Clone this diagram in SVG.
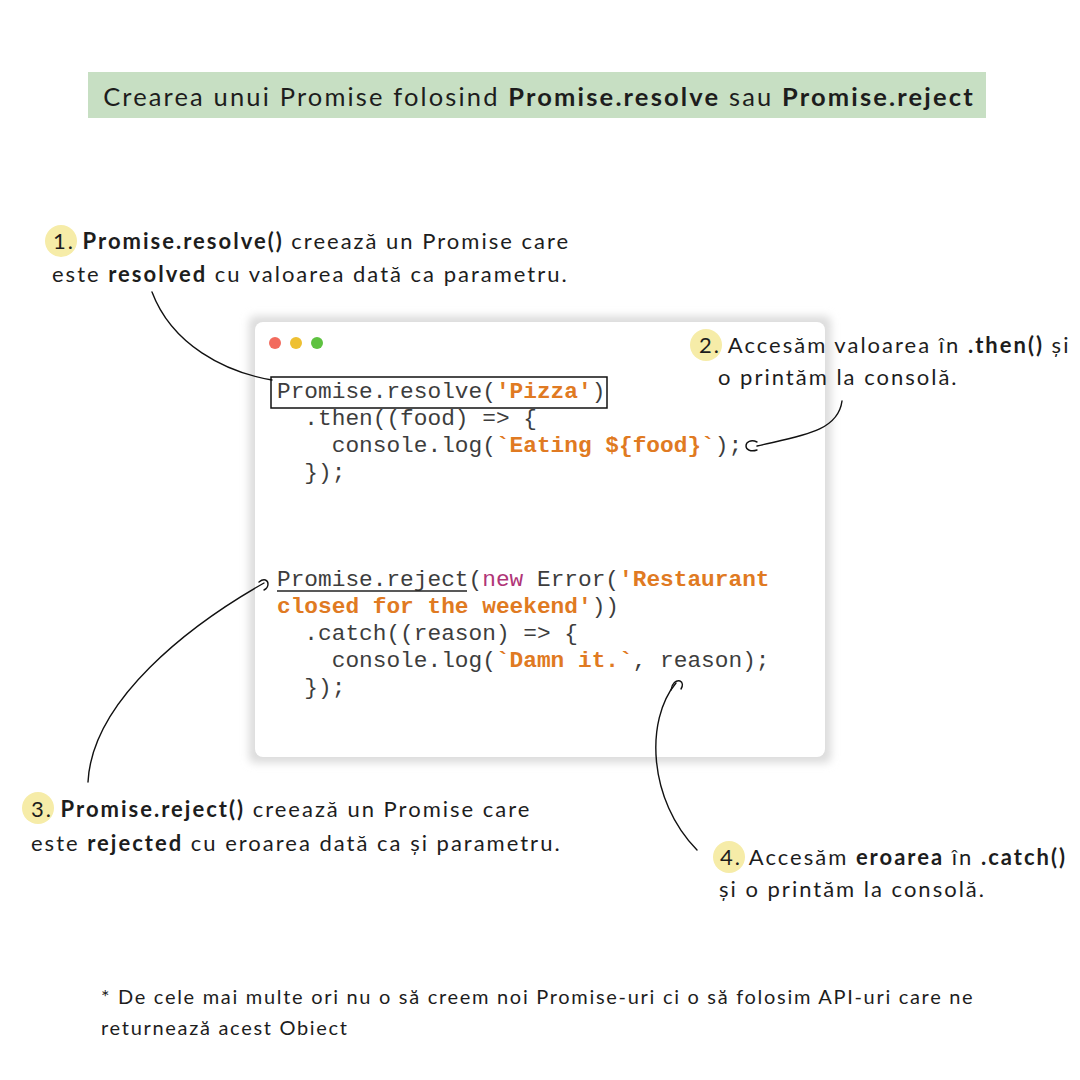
<svg xmlns="http://www.w3.org/2000/svg" width="1080" height="1080" viewBox="0 0 1080 1080">
<defs>
<style>
.hand{font-family:Lato,"Noto Sans","DejaVu Sans",sans-serif;fill:#1d1d1d;letter-spacing:2px}
.b{font-weight:bold}
.code{font-family:"Liberation Mono","Courier New",monospace;font-size:22.8px;fill:#3d3d3d}
.str{fill:#e07a22;font-weight:bold}
.kw{fill:#b03577}
.badge{fill:#f6eca8}
.conn{fill:none;stroke:#111;stroke-width:1.4;stroke-linecap:round}
</style>
<filter id="sh" x="-5%" y="-5%" width="110%" height="110%">
<feGaussianBlur stdDeviation="4"/>
</filter>
</defs>
<rect width="1080" height="1080" fill="#ffffff"/>

<g id="title">
<rect x="88" y="72" width="898" height="46" fill="#c7dfc3"/>
<text class="hand" x="539" y="106" font-size="25.5" text-anchor="middle" style="letter-spacing:2.15px">Crearea unui Promise folosind <tspan class="b">Promise.resolve</tspan> sau <tspan class="b">Promise.reject</tspan></text>
</g>

<g id="code-window">
<rect x="249" y="316" width="582" height="447" rx="6" fill="#dcdcdc" filter="url(#sh)"/>
<rect x="255" y="322" width="570" height="435" rx="8" fill="#ffffff"/>
<circle cx="275" cy="343" r="6" fill="#f26b5e"/>
<circle cx="296" cy="343" r="6" fill="#eec032"/>
<circle cx="317" cy="343" r="6" fill="#5ec240"/>
<text class="code" xml:space="preserve"><tspan x="277" y="398">Promise.resolve(<tspan class="str">'Pizza'</tspan>)</tspan><tspan x="277" y="425">  .then((food) =&gt; {</tspan><tspan x="277" y="452">    console.log(<tspan class="str">`Eating ${food}`</tspan>);</tspan><tspan x="277" y="479">  });</tspan></text>
<rect x="271" y="377" width="336" height="31" fill="none" stroke="#111" stroke-width="1.5"/>
<text class="code" xml:space="preserve"><tspan x="277" y="586">Promise.reject(<tspan class="kw">new</tspan> Error(<tspan class="str">'Restaurant</tspan></tspan><tspan x="277" y="613"><tspan class="str">closed for the weekend'</tspan>))</tspan><tspan x="277" y="640">  .catch((reason) =&gt; {</tspan><tspan x="277" y="667">    console.log(<tspan class="str">`Damn it.`</tspan>, reason);</tspan><tspan x="277" y="694">  });</tspan></text>
<line x1="277" y1="591" x2="467" y2="591" stroke="#222" stroke-width="1.5"/>
</g>

<g id="note1">
<circle class="badge" cx="61" cy="241" r="16"/>
<text class="hand" font-size="22"><tspan x="53" y="249">1. <tspan class="b">Promise.resolve()</tspan> creează un Promise care</tspan><tspan x="52" y="282">este <tspan class="b">resolved</tspan> cu valoarea dată ca parametru.</tspan></text>
</g>

<g id="note2">
<circle class="badge" cx="706" cy="345" r="16"/>
<text class="hand" font-size="22"><tspan x="699" y="353">2. Accesăm valoarea în <tspan class="b">.then()</tspan> și</tspan><tspan x="718" y="385">o printăm la consolă.</tspan></text>
</g>

<g id="note3">
<circle class="badge" cx="38" cy="808" r="16"/>
<text class="hand" font-size="22"><tspan x="31" y="817">3. <tspan class="b">Promise.reject()</tspan> creează un Promise care</tspan><tspan x="31" y="851">este <tspan class="b">rejected</tspan> cu eroarea dată ca și parametru.</tspan></text>
</g>

<g id="note4">
<circle class="badge" cx="729" cy="857" r="16"/>
<text class="hand" font-size="22"><tspan x="720" y="865">4. Accesăm <tspan class="b">eroarea</tspan> în <tspan class="b">.catch()</tspan></tspan><tspan x="719" y="897">și o printăm la consolă.</tspan></text>
</g>

<g id="footnote">
<text class="hand" font-size="20" style="letter-spacing:1.7px"><tspan x="101" y="1004">* De cele mai multe ori nu o să creem noi Promise-uri ci o să folosim API-uri care ne</tspan><tspan x="101" y="1035">returnează acest Obiect</tspan></text>
</g>

<g id="connectors">
<path class="conn" d="M152,292 C172,345 225,372 272,380"/>
<path class="conn" d="M842,401 C838,432 800,436 757,446"/>
<path class="conn" d="M757,442 C751,439 746,442 746,446 C746,450 751,452 757,450"/>
<path class="conn" d="M88,782 C92,700 190,625 264,583"/>
<path class="conn" d="M259,582 C264,578 268,580 268,584 C268,587 266,589 264,590"/>
<path class="conn" d="M697,850 C648,800 645,720 676,683"/>
<path class="conn" d="M671,690 C672,683 676,680 680,681 C683,682 683,686 681,689"/>
</g>
</svg>
